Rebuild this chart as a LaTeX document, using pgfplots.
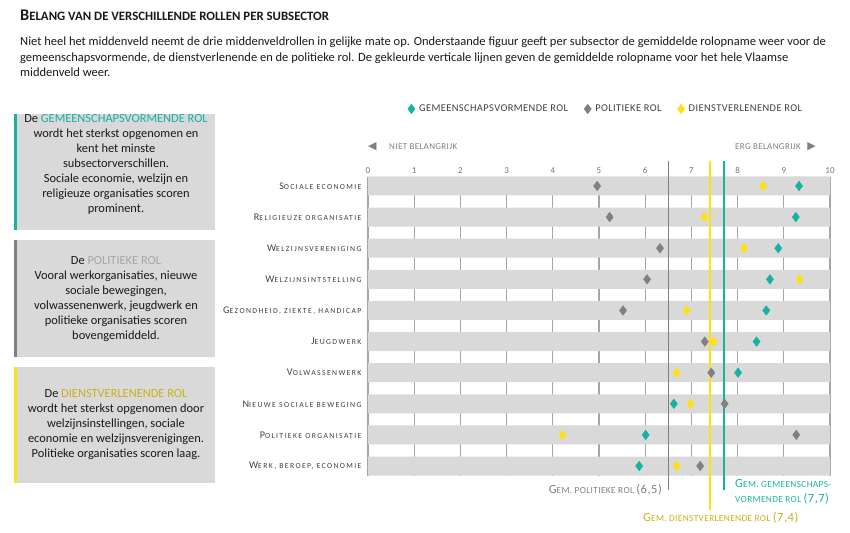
\documentclass[border=0pt]{standalone}
\usepackage{fontspec}
\setmainfont{Carlito}
\newfontfamily\spaced[LetterSpace=18]{Carlito}
\newfontfamily\legfont[LetterSpace=4]{Carlito}
\newfontfamily\symb{DejaVu Sans}
\usepackage{pgfplots}
\pgfplotsset{compat=1.18}

\definecolor{cteal}{HTML}{17B2A2}
\definecolor{cgray}{HTML}{808080}
\definecolor{cyel}{HTML}{FFE014}
\definecolor{cgold}{HTML}{C9B11A}
\definecolor{band}{HTML}{D9D9D9}
\definecolor{lab}{HTML}{404040}
\definecolor{gridc}{HTML}{A6A6A6}

% fake small caps: big first letter, small rest
\newcommand{\fsc}[2]{{\fontsize{10.2}{10}\selectfont #1}{\fontsize{7.7}{8}\selectfont #2}}
\newcommand{\msc}[3]{{\fontsize{12.5}{12}\selectfont #1}{\fontsize{9.3}{10}\selectfont #2}{\fontsize{12.5}{12}\selectfont #3}}

\begin{document}
\begin{tikzpicture}[x=1pt,y=1pt]
\useasboundingbox (0,0) rectangle (850,-532);

% title and intro
\node[anchor=west, inner sep=0, text=black!90] at (20,-15)
  {\bfseries{\fontsize{16.3}{16}\selectfont B}{\fontsize{12.8}{13}\selectfont ELANG VAN DE VERSCHILLENDE ROLLEN PER SUBSECTOR}};
\node[anchor=north west, inner sep=0, align=left, font=\fontsize{12.5}{15.5}\selectfont, text=black!90] at (20,-37)
  {Niet heel het middenveld neemt de drie middenveldrollen in gelijke mate op. Onderstaande figuur geeft per subsector de gemiddelde rolopname weer voor de\\
   gemeenschapsvormende, de dienstverlenende en de politieke rol. De gekleurde verticale lijnen geven de gemiddelde rolopname voor het hele Vlaamse\\
   middenveld weer.};

% side boxes
\fill[band] (14,-114) rectangle (215,-230);
\fill[cteal] (14,-114) rectangle (17,-230);
\fill[band] (14,-240) rectangle (215,-357);
\fill[cgray] (14,-240) rectangle (17,-357);
\fill[band] (14,-367) rectangle (215,-483);
\fill[cyel] (14,-367) rectangle (17,-483);

\begin{scope}[every node/.style={align=center, inner sep=0, font=\fontsize{12.4}{15}\selectfont, text=black!90}]
\node at (116,-164) {De \textcolor{cteal}{GEMEENSCHAPSVORMENDE ROL}\\
  wordt het sterkst opgenomen en\\ kent het minste\\ subsectorverschillen.\\
  Sociale economie, welzijn en\\ religieuze organisaties scoren\\ prominent.};
\node at (116,-299) {De \textcolor{gridc}{POLITIEKE ROL}\\
  Vooral werkorganisaties, nieuwe\\ sociale bewegingen,\\ volwassenenwerk, jeugdwerk en\\
  politieke organisaties scoren\\ bovengemiddeld.};
\node at (116,-425) {De \textcolor{cgold}{DIENSTVERLENENDE ROL}\\
  wordt het sterkst opgenomen door\\ welzijnsinstellingen, sociale\\
  economie en welzijnsverenigingen.\\ Politieke organisaties scoren laag.};
\end{scope}

% direction hints
\node[anchor=west, inner sep=0, text=cgray] at (368,-147) {\symb\fontsize{11}{11}\selectfont ◀};
\node[anchor=west, inner sep=0, text=cgray] at (389,-147) {\legfont\fontsize{9}{9}\selectfont NIET BELANGRIJK};
\node[anchor=east, inner sep=0, text=cgray] at (816,-147) {\symb\fontsize{11}{11}\selectfont ▶};
\node[anchor=east, inner sep=0, text=cgray] at (801,-147) {\legfont\fontsize{9}{9}\selectfont ERG BELANGRIJK};

\begin{axis}[
  at={(368pt,-176.5pt)}, anchor=north west,
  scale only axis, width=462pt, height=299pt,
  xmin=0, xmax=10, ymin=0.695, ymax=10.305, y dir=reverse,
  clip=false,
  axis line style={draw=none}, major tick length=0,
  xtick={0,...,10}, xticklabel pos=upper,
  xmajorgrids, grid style={gridc, line width=1.3pt},
  /pgf/number format/assume math mode=true,
  xticklabel style={font=\fontsize{9}{9}\selectfont, text=black!55, yshift=-1pt},
  ytick={1,...,10},
  yticklabels={{\fsc{S}{OCIALE ECONOMIE}},{\fsc{R}{ELIGIEUZE ORGANISATIE}},{\fsc{W}{ELZIJNSVERENIGING}},
    {\fsc{W}{ELZIJNSINTSTELLING}},{\fsc{G}{EZONDHEID, ZIEKTE, HANDICAP}},{\fsc{J}{EUGDWERK}},
    {\fsc{V}{OLWASSENWERK}},{\fsc{N}{IEUWE SOCIALE BEWEGING}},{\fsc{P}{OLITIEKE ORGANISATIE}},
    {\fsc{W}{ERK, BEROEP, ECONOMIE}}},
  yticklabel style={font=\spaced, text=lab, xshift=-3pt},
  legend columns=3,
  legend style={at={(0.515,1.226)}, anchor=center, draw=none, fill=none,
    font=\legfont\fontsize{10.4}{11}\selectfont, text=lab,
    /tikz/every odd column/.append style={column sep=2pt},
    /tikz/every even column/.append style={column sep=14pt}},
  legend cell align=left,
]
% grey bands
\addplot[xbar, bar width=19pt, fill=band, draw=none, forget plot] coordinates {
  (10,1) (10,2) (10,3) (10,4) (10,5) (10,6) (10,7) (10,8) (10,9) (10,10)};
% averages for the whole field
\addplot[cgray, line width=1.6pt, forget plot] coordinates {(6.5,0.196) (6.5,10.77)};
\addplot[cyel, line width=1.3pt, forget plot] coordinates {(7.4,0.196) (7.4,11.41)};
\addplot[cteal, line width=1.6pt, forget plot] coordinates {(7.7,0.196) (7.7,10.77)};
% subsector scores
\addplot[only marks, mark=diamond*, mark size=4.8pt, cteal, mark options={fill=cteal, draw=none}] coordinates {
  (9.33,1) (9.26,2) (8.88,3) (8.70,4) (8.62,5) (8.41,6) (8.01,7) (6.62,8) (6.01,9) (5.87,10)};
\addlegendentry{GEMEENSCHAPSVORMENDE ROL}
\addplot[only marks, mark=diamond*, mark size=4.8pt, cgray, mark options={fill=cgray, draw=none}] coordinates {
  (4.96,1) (5.23,2) (6.32,3) (6.04,4) (5.52,5) (7.29,6) (7.43,7) (7.72,8) (9.27,9) (7.19,10)};
\addlegendentry{POLITIEKE ROL}
\addplot[only marks, mark=diamond*, mark size=4.8pt, cyel, mark options={fill=cyel, draw=none}] coordinates {
  (8.55,1) (7.28,2) (8.14,3) (9.34,4) (6.90,5) (7.48,6) (6.68,7) (6.98,8) (4.21,9) (6.68,10)};
\addlegendentry{DIENSTVERLENENDE ROL}
\end{axis}

% labels of the average lines
\node[anchor=east, inner sep=0, text=cgray] at (662,-490) {\legfont\msc{G}{EM. POLITIEKE ROL }{(6,5)}};
\node[anchor=west, inner sep=0, align=left, text=cteal, font=\legfont\fontsize{9.3}{15}\selectfont] at (735,-491.5)
  {\msc{G}{EM. GEMEENSCHAPS-}{}\\{\fontsize{9.3}{15}\selectfont VORMENDE ROL }{\fontsize{12.5}{15}\selectfont (7,7)}};
\node[anchor=west, inner sep=0, text=cgold] at (643,-518) {\legfont\msc{G}{EM. DIENSTVERLENENDE ROL }{(7,4)}};
\end{tikzpicture}
\end{document}
